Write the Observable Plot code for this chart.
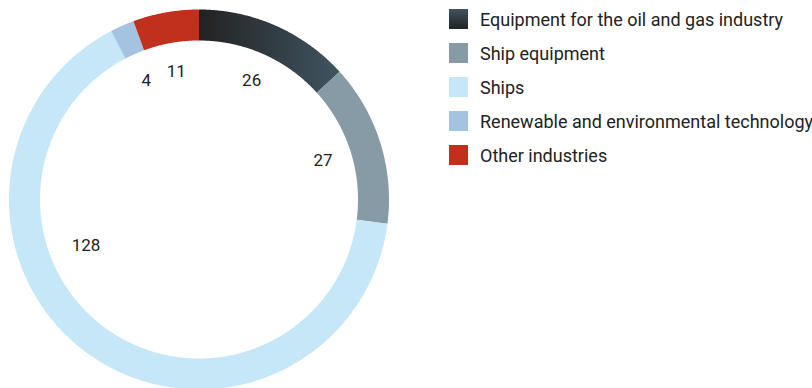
<!DOCTYPE html>
<html><head><meta charset="utf-8">
<script src="https://cdn.jsdelivr.net/npm/d3@7"></script>
<script src="https://cdn.jsdelivr.net/npm/@observablehq/plot@0.6"></script>
<style>
body{margin:0;background:#fff;}
#wrap{position:relative;width:812px;height:388px;overflow:hidden;font-family:Roboto,sans-serif;}
#legend{position:absolute;left:449px;top:9px;}
.item{display:flex;align-items:center;height:20px;margin-bottom:14px;white-space:nowrap;font-size:18px;color:#222;}
.sw{width:19px;height:20px;margin-right:12px;flex:none;}
</style></head><body><div id="wrap"><div id="chart"></div><div id="legend"></div></div>
<script>
const categories = ["Equipment for the oil and gas industry", "Ship equipment", "Ships", "Renewable and environmental technology", "Other industries"];
const values = [26, 27, 128, 4, 11];
const palette = ["url(#oilGrad)", "#879ba6", "#c5e7f7", "#a4c3e0", "#c0301c"];
const swatchBg = ["linear-gradient(to bottom, #3f5361, #222)", "#879ba6", "#c5e7f7", "#a4c3e0", "#c0301c"];

const W = 812, H = 388;
const cx = 198.5, cy = 199;
const rOuter = 190, rInner = 159;
const rMid = (rOuter + rInner) / 2, ringW = rOuter - rInner;
const rLabel = 130;

const data = categories.map((c, i) => ({category: c, value: values[i], color: palette[i]}));
const arcs = d3.pie().sort(null).value(d => d.value)(data);

function arcPoints(a) {
  const n = Math.max(2, Math.ceil((a.endAngle - a.startAngle) / 0.005));
  return d3.range(n + 1).map(k => {
    const t = a.startAngle + (a.endAngle - a.startAngle) * k / n;
    return {x: rMid * Math.sin(t), y: rMid * Math.cos(t)};
  });
}
// label placement: middle of slice; a slice over half the ring gets its label toward its lower-left part
function labelPos(a) {
  const span = a.endAngle - a.startAngle;
  const big = span > Math.PI;
  const t = big ? a.startAngle + span * 0.64 : (a.startAngle + a.endAngle) / 2;
  const r = big ? rLabel - 8 : rLabel;
  return {x: r * Math.sin(t), y: r * Math.cos(t), text: String(a.data.value)};
}
const labels = arcs.map(labelPos);

const oilArc = arcs[0];
function gradientDefs(index, scales) {
  const g = d3.create("svg:g");
  const lg = g.append("defs").append("linearGradient")
    .attr("id", "oilGrad").attr("gradientUnits", "userSpaceOnUse")
    .attr("x1", scales.x(0)).attr("x2", scales.x(rOuter * Math.sin(oilArc.endAngle)))
    .attr("y1", 0).attr("y2", 0);
  lg.append("stop").attr("offset", "0%").attr("stop-color", "#222222");
  lg.append("stop").attr("offset", "100%").attr("stop-color", "#405461");
  return g.node();
}

const chart = Plot.plot({
  width: W, height: H,
  margin: 0,
  x: {domain: [-cx, W - cx], axis: null},
  y: {domain: [-(H - cy), cy], axis: null},
  style: {fontFamily: "Roboto, sans-serif", background: "transparent"},
  marks: [
    gradientDefs,
    ...arcs.map(a => Plot.line(arcPoints(a), {x: "x", y: "y", stroke: a.data.color, strokeWidth: ringW, strokeLinecap: "butt", strokeLinejoin: "round"})),
    Plot.text(labels, {x: "x", y: "y", text: "text", fontSize: 17, fill: "#222"})
  ]
});
document.getElementById("chart").appendChild(chart);

const legend = d3.select("#legend");
categories.forEach((c, i) => {
  const it = legend.append("div").attr("class", "item");
  it.append("div").attr("class", "sw").style("background", swatchBg[i]);
  it.append("span").text(c);
});
</script></body></html>
